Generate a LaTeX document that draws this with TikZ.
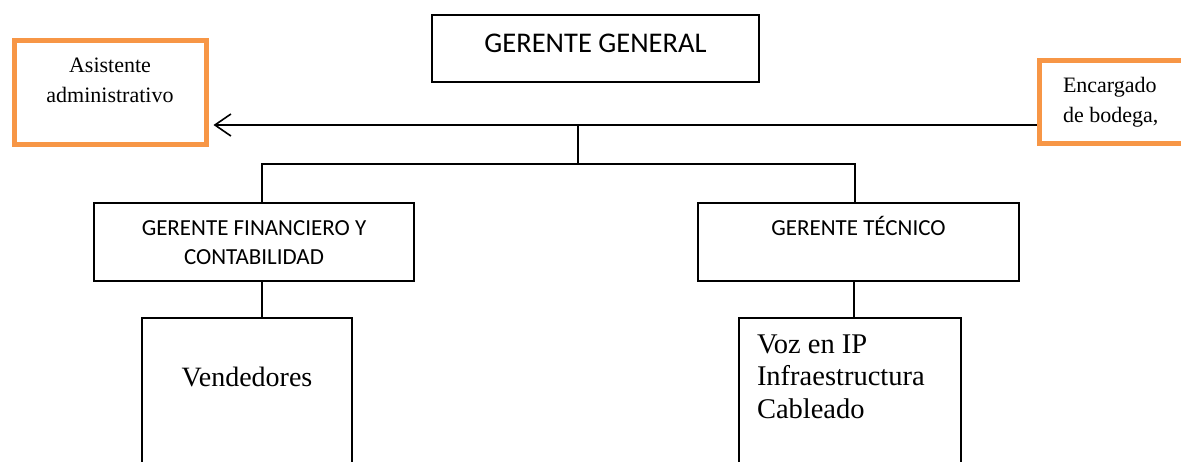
\documentclass[tikz,border=0pt]{standalone}
\usepackage{fontspec}
\setmainfont{Liberation Serif}
\newfontfamily\calfont{Carlito}
\usetikzlibrary{arrows.meta,calc}
\definecolor{orng}{HTML}{F79646}
\newcommand\boxtext[5]{\parbox[c][#2][t]{#1}{\vspace*{#3}#4#5}}
\tikzset{
  bbox/.style={draw=black, line width=1.9pt, inner sep=0pt, fill=white},
  obox/.style={draw=orng, line width=5pt, inner sep=0pt, fill=white},
  conn/.style={draw=black, line width=1.8pt},
}
\begin{document}
\begin{tikzpicture}[x=1pt,y=-1pt]
\useasboundingbox (0,0) rectangle (1181,461);
\clip (0,0) rectangle (1181,461);
\fill[white] (0,0) rectangle (1181,461);

\node[bbox] (gg) at (595.5,48.5) {\boxtext{327pt}{67pt}{12.8pt}{\centering\calfont\fontsize{28.5}{35}\selectfont}{\strut GERENTE GENERAL}};

\node[obox] (asist) at (110,92) {\boxtext{192pt}{104pt}{11.5pt}{\centering\fontsize{22}{30}\selectfont}{\strut Asistente\\administrativo}};

\node[obox] (enc) at (1119.5,101.5) {\boxtext{161pt}{83pt}{11.5pt}{\raggedright\leftskip=24pt\fontsize{22}{30}\selectfont}{\strut Encargado\\de bodega,}};

\node[bbox] (gf) at (254,242) {\boxtext{320pt}{78pt}{11.7pt}{\centering\calfont\fontsize{23}{29}\selectfont}{\strut GERENTE FINANCIERO Y\\CONTABILIDAD}};

\node[bbox] (gt) at (858.5,242) {\boxtext{321pt}{78pt}{11.7pt}{\centering\calfont\fontsize{23}{29}\selectfont}{\strut GERENTE TÉCNICO}};

\node[bbox] (vend) at (247,404) {\boxtext{210pt}{172pt}{45.6pt}{\centering\fontsize{28}{33}\selectfont}{\strut Vendedores}};

\node[bbox] (voz) at (850,404) {\boxtext{222pt}{172pt}{12.3pt}{\raggedright\leftskip=18pt\fontsize{28.5}{32.5}\selectfont}{\strut Voz en IP\\Infraestructura\\Cableado}};

\coordinate (ya) at (0,125);
\coordinate (j1) at (578,125);
\coordinate (j2) at (578,164);

\draw[conn, -{Straight Barb[length=16pt,width=22pt,line width=1.6pt]}, shorten >=5pt] (enc.west |- ya) -- (asist.east |- ya);
\draw[conn] (j1) -- (j2);
\draw[conn] ([xshift=8pt]gf.north) |- (j2) -| ([xshift=-3.5pt]gt.north);
\draw[conn] ([xshift=8pt]gf.south) -- ([xshift=15pt]vend.north);
\draw[conn] ([xshift=-4.5pt]gt.south) -- ([xshift=4pt]voz.north);
\end{tikzpicture}
\end{document}
